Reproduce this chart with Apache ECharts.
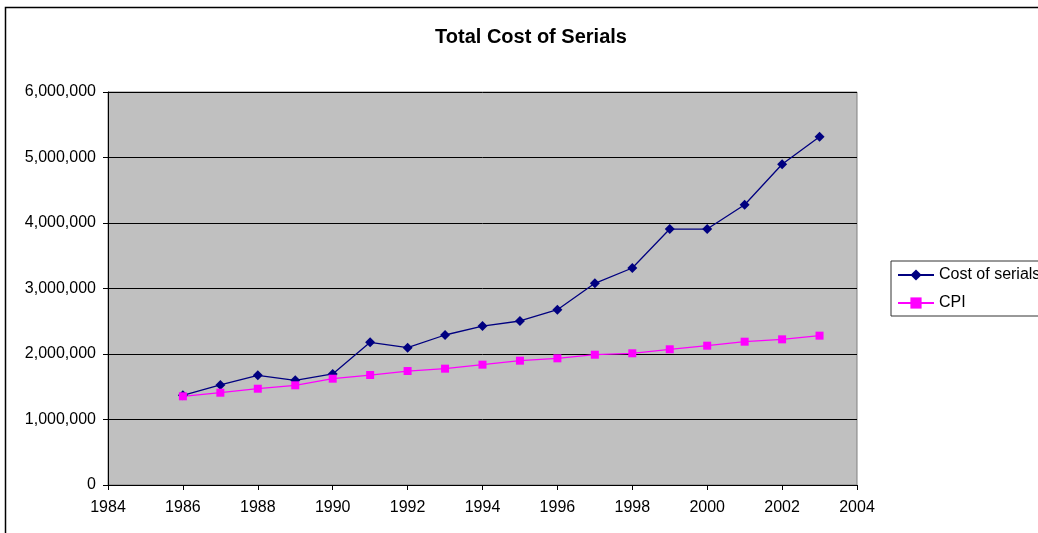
<!DOCTYPE html>
<html>
<head>
<meta charset="utf-8">
<script src="https://cdn.jsdelivr.net/npm/echarts@6/dist/echarts.min.js"></script>
<style>
  html, body { margin: 0; padding: 0; background: #fff; }
  #chart_main { width: 1038px; height: 533px; }
</style>
</head>
<body>
<div id="chart_main"></div>
<script>
// years on x axis
let years = [1986, 1987, 1988, 1989, 1990, 1991, 1992, 1993, 1994, 1995,
             1996, 1997, 1998, 1999, 2000, 2001, 2002, 2003];
// values
let costOfSerials = [1370000, 1527000, 1675000, 1598000, 1695000, 2178000, 2096000, 2290000, 2427000,
                     2504000, 2676000, 3079000, 3313000, 3908000, 3908000, 4279000, 4896000, 5318000];
let cpi = [1354000, 1409000, 1470000, 1522000, 1623000, 1679000, 1740000, 1776000, 1837000,
           1898000, 1934000, 1989000, 2011000, 2072000, 2127000, 2188000, 2224000, 2280000];
let seriesNames = ['Cost of serials', 'CPI'];

function pairs(vals) {
    let out = [];
    for (let i = 0; i < years.length; i++) {
        out.push([years[i], vals[i]]);
    }
    return out;
}

let fontFam = 'Arial, "Liberation Sans", sans-serif';

let option_main = {
    animation: false,
    backgroundColor: '#fff',
    title: {
        text: 'Total Cost of Serials',
        left: 526,
        top: 22,
        textAlign: 'center',
        textStyle: {
            fontFamily: fontFam,
            fontSize: 20,
            fontWeight: 'bold',
            color: '#000'
        }
    },
    legend: {
        orient: 'vertical',
        left: 891,
        top: 261,
        padding: [6, 20, 5, 6],
        itemWidth: 36,
        itemHeight: 14,
        itemGap: 12,
        borderColor: '#333',
        borderWidth: 1,
        backgroundColor: '#fff',
        textStyle: {
            fontFamily: fontFam,
            fontSize: 16,
            color: '#000'
        },
        data: seriesNames
    },
    grid: {
        left: 108,
        top: 92,
        right: 181,
        bottom: 48,
        show: true,
        backgroundColor: '#C0C0C0',
        borderColor: '#808080',
        borderWidth: 1
    },
    xAxis: {
        type: 'value',
        min: 1984,
        max: 2004,
        interval: 2,
        axisLine: { show: true, lineStyle: { color: '#000', width: 1 } },
        axisTick: { show: true, inside: false, length: 5, lineStyle: { color: '#000' } },
        splitLine: { show: false },
        axisLabel: {
            margin: 15,
            fontFamily: fontFam,
            fontSize: 16,
            color: '#000',
            formatter: function (v) { return String(v); }
        }
    },
    yAxis: {
        type: 'value',
        min: 0,
        max: 6000000,
        interval: 1000000,
        axisLine: { show: true, lineStyle: { color: '#000', width: 1 } },
        axisTick: { show: true, inside: false, length: 5, lineStyle: { color: '#000' } },
        splitLine: { show: true, lineStyle: { color: '#000', width: 1 } },
        axisLabel: {
            margin: 12,
            fontFamily: fontFam,
            fontSize: 16,
            color: '#000',
            formatter: function (v) { return v.toLocaleString('en-US'); }
        }
    },
    series: [
        {
            name: seriesNames[0],
            type: 'line',
            data: pairs(costOfSerials),
            symbol: 'diamond',
            symbolSize: 10,
            lineStyle: { color: '#000080', width: 1.3 },
            itemStyle: { color: '#000080' }
        },
        {
            name: seriesNames[1],
            type: 'line',
            data: pairs(cpi),
            symbol: 'rect',
            symbolSize: 8,
            lineStyle: { color: '#FF00FF', width: 1.3 },
            itemStyle: { color: '#FF00FF' }
        }
    ],
    graphic: [
        {
            type: 'rect',
            shape: { x: 5.5, y: 7.5, width: 1200, height: 700 },
            style: { fill: null, stroke: '#000', lineWidth: 1.5 },
            silent: true
        }
    ]
};

let myChart_main = echarts.init(document.getElementById('chart_main'));
myChart_main.setOption(option_main);
</script>
</body>
</html>
